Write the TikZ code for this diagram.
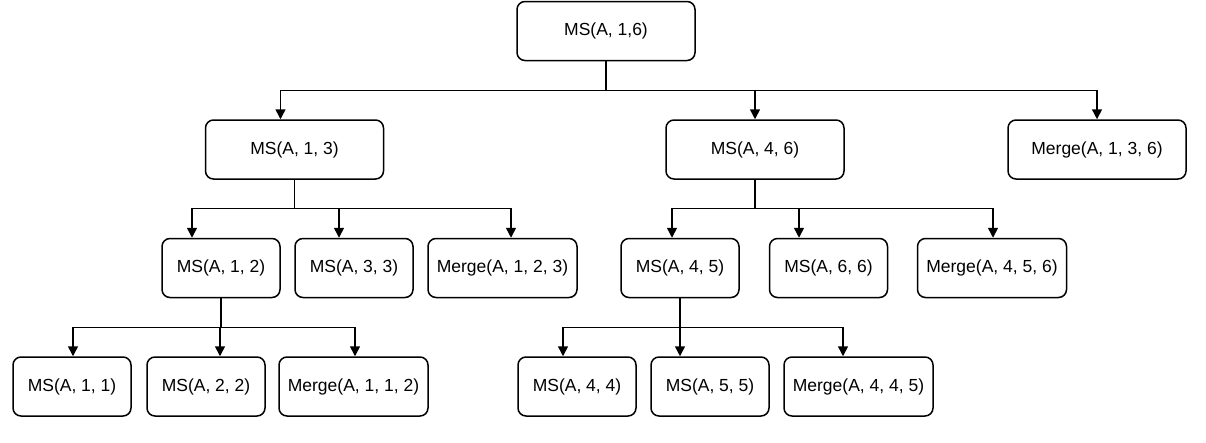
\documentclass[tikz,border=0pt]{standalone}
\usepackage{fontspec}
\setmainfont{Liberation Sans}
\usetikzlibrary{arrows.meta,positioning}
\tikzset{
    msnode/.style={draw, rounded corners=8pt, minimum height=59pt, inner sep=2pt,
                   font=\fontsize{17.5}{21}\selectfont},
    arr/.style={-{Triangle[length=10pt,width=10pt]}}
}

\begin{document}
\begin{tikzpicture}[x=1pt, y=-1pt, line width=1.5pt]
\useasboundingbox (0,0) rectangle (1206,442);

% Nodes
\node[msnode, minimum width=178pt] (ms16) at (606,31) {MS(A, 1,6)};

\node[msnode, minimum width=178pt] (ms13) at (294.5,149.5) {MS(A, 1, 3)};
\node[msnode, minimum width=178pt] (ms46) at (755,149.5) {MS(A, 4, 6)};
\node[msnode, minimum width=178pt] (mg136) at (1097,149.5) {Merge(A, 1, 3, 6)};

\node[msnode, minimum width=118pt] (ms12) at (221,268) {MS(A, 1, 2)};
\node[msnode, minimum width=118pt] (ms33) at (354,268) {MS(A, 3, 3)};
\node[msnode, minimum width=149pt] (mg123) at (502.5,268) {Merge(A, 1, 2, 3)};
\node[msnode, minimum width=118pt] (ms45) at (680,268) {MS(A, 4, 5)};
\node[msnode, minimum width=118pt] (ms66) at (828.5,268) {MS(A, 6, 6)};
\node[msnode, minimum width=149pt] (mg456) at (992,268) {Merge(A, 4, 5, 6)};

\node[msnode, minimum width=118pt] (ms11) at (72,386.5) {MS(A, 1, 1)};
\node[msnode, minimum width=118pt] (ms22) at (206,386.5) {MS(A, 2, 2)};
\node[msnode, minimum width=149pt] (mg112) at (353.5,386.5) {Merge(A, 1, 1, 2)};
\node[msnode, minimum width=118pt] (ms44) at (577,386.5) {MS(A, 4, 4)};
\node[msnode, minimum width=118pt] (ms55) at (710,386.5) {MS(A, 5, 5)};
\node[msnode, minimum width=149pt] (mg445) at (858.5,386.5) {Merge(A, 4, 4, 5)};

% Paths (split, then merge)
\draw[arr] (ms16.south) -- ++(0,29) -| ([xshift=-14pt]ms13.north);
\draw[arr] (ms16.south) -- ++(0,29) -| (ms46.north);
\draw[arr] (ms16.south) -- ++(0,29) -| (mg136.north);

\draw[arr] (ms13.south) -- ++(0,28.5) -| ([xshift=-29pt]ms12.north);
\draw[arr] (ms13.south) -- ++(0,28.5) -| ([xshift=-15pt]ms33.north);
\draw[arr] (ms13.south) -- ++(0,28.5) -| ([xshift=8.5pt]mg123.north);

\draw[arr] (ms46.south) -- ++(0,28.5) -| ([xshift=-8pt]ms45.north);
\draw[arr] (ms46.south) -- ++(0,28.5) -| ([xshift=-29.5pt]ms66.north);
\draw[arr] (ms46.south) -- ++(0,28.5) -| ([xshift=1pt]mg456.north);

\draw[arr] (ms12.south) -- ++(0,29) -| ([xshift=1pt]ms11.north);
\draw[arr] (ms12.south) -- ++(0,29) -| ([xshift=14pt]ms22.north);
\draw[arr] (ms12.south) -- ++(0,29) -| ([xshift=1.5pt]mg112.north);

\draw[arr] (ms45.south) -- ++(0,29) -| ([xshift=-14pt]ms44.north);
\draw[arr] (ms45.south) -- ++(0,29) -| ([xshift=-30pt]ms55.north);
\draw[arr] (ms45.south) -- ++(0,29) -| ([xshift=-15.5pt]mg445.north);

\end{tikzpicture}
\end{document}
